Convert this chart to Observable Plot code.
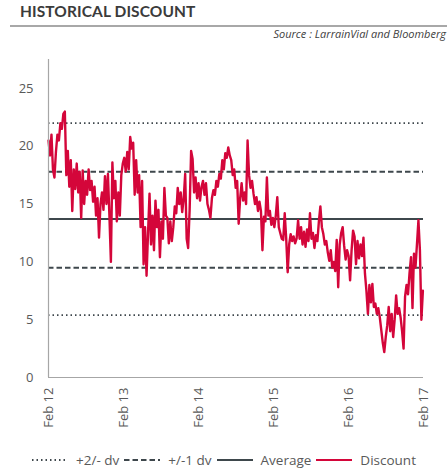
<!DOCTYPE html>
<html>
<head>
<meta charset="utf-8">
<script src="https://cdn.jsdelivr.net/npm/d3@7"></script>
<script src="https://cdn.jsdelivr.net/npm/@observablehq/plot@0.6"></script>
<style>
  html, body { margin: 0; padding: 0; background: #fff; }
  body { width: 447px; height: 469px; overflow: hidden; font-family: "Open Sans", sans-serif; }
  #hdr { position: relative; width: 447px; height: 48px; }
  #title { position: absolute; left: 20px; top: 2px; font: 700 15.5px Lato, sans-serif; color: #3b3b3b; letter-spacing: 0.1px; }
  #rule { position: absolute; left: 10px; right: 0; top: 25px; height: 2px; background: #a8a8a8; }
  #source { position: absolute; right: 1px; top: 26px; font: italic 11px "Open Sans", sans-serif; color: #404040; }
  #legend { display: flex; justify-content: center; align-items: center; height: 20px; margin-top: 21px; font: 13.5px "Open Sans", sans-serif; color: #595959; }
  #legend .item { display: flex; align-items: center; margin: 0 2px; }
  #legend svg { margin-right: 7px; }
</style>
</head>
<body>
<div id="hdr">
  <div id="title">HISTORICAL DISCOUNT</div>
  <div id="rule"></div>
  <div id="source">Source : LarrainVial and Bloomberg</div>
</div>
<div id="chart"></div>
<div id="legend"></div>
<script>
// Discount series (roughly weekly samples, Feb 2012 -> Feb 2017)
const discount = [
  20.5, 19.2, 21.0, 18.0, 17.3, 19.5, 21.0, 20.5, 22.0, 21.5, 22.8, 23.0, 17.5, 19.6, 16.5, 18.8, 14.4, 18.0, 16.3, 18.5,
  16.0, 17.8, 13.8, 17.9, 15.0, 17.0, 15.8, 18.0, 16.2, 17.0, 15.2, 16.5, 14.0, 15.5, 12.1, 15.0, 16.0, 14.5, 17.4, 15.0,
  17.6, 14.0, 10.0, 18.6, 15.5, 17.0, 13.5, 16.0, 14.0, 17.5, 18.5, 19.0, 17.8,
  19.5, 18.0, 20.8, 19.8, 20.3, 15.8, 18.8, 16.0, 17.5, 13.0, 17.0, 9.8, 13.0, 8.8, 12.5, 15.9, 11.5, 14.0, 11.0, 15.3,
  13.0, 14.5, 10.4, 13.5, 12.0, 16.4, 14.0, 13.8, 11.6, 13.5, 11.8, 13.0, 14.8, 14.2, 16.4, 15.0, 16.0, 14.3, 15.5, 17.6,
  12.0, 11.2, 14.5, 19.6, 18.9, 16.0, 17.3, 15.5, 16.8, 15.3, 16.5, 17.0,
  15.8, 16.8, 15.0, 14.5, 13.8, 15.5, 16.2, 15.8, 17.0, 16.5, 17.6, 17.2, 18.8, 18.0, 19.4, 19.0, 19.9, 19.2, 18.8, 17.5,
  18.0, 16.4, 17.0, 13.3, 15.5, 16.8, 15.3, 16.0, 15.0, 20.5, 17.5, 16.4, 17.0, 15.9, 15.0, 15.6, 14.4, 15.2, 14.4, 11.0,
  13.9, 13.5, 17.3, 14.0, 14.4, 13.2, 13.8, 13.0, 14.0, 15.6, 13.0, 12.5,
  12.0, 11.9, 14.2, 12.0, 9.1, 11.5, 12.4, 11.8, 12.2, 11.6, 12.0, 13.6, 12.0, 13.0, 11.5, 12.6, 11.3, 12.8, 11.8, 14.2,
  12.0, 12.5, 11.2, 12.3, 11.8, 13.5, 14.8, 13.0, 12.4, 11.5, 11.8, 10.8, 10.1, 11.0, 9.5, 10.0, 9.2, 11.9, 7.8, 11.5,
  12.5, 13.0, 11.4, 10.2, 11.0, 10.5, 8.4, 11.0, 12.7, 12.2, 9.8, 11.8,
  10.3, 11.5, 10.5, 12.1, 9.0, 7.5, 5.5, 8.0, 6.5, 8.1, 6.1, 6.4, 5.5, 6.0, 5.2, 4.1, 3.0, 2.2, 3.5, 4.5,
  6.1, 4.0, 5.5, 3.5, 5.0, 7.1, 5.5, 6.0, 5.2, 4.0, 2.5, 7.0, 8.0, 7.2, 9.0, 10.4, 6.0, 10.7, 9.5, 11.5,
  13.6, 11.0, 5.0, 7.5
];
const seriesStart = "2012-02-01";
const seriesEnd = "2017-01-29";

// Reference levels
const refLevels = [22.0, 17.8, 13.7, 9.5, 5.4];
const refKinds  = ["2dv", "1dv", "avg", "1dv", "2dv"];

// Axes
const xTickDates  = ["2012-02-01", "2013-02-01", "2014-02-01", "2015-02-01", "2016-02-01", "2017-02-01"];
const xTickLabels = ["Feb 12", "Feb 13", "Feb 14", "Feb 15", "Feb 16", "Feb 17"];
const yTicks = [0, 5, 10, 15, 20, 25];
const yMax = 27.5;

// Legend
const legendLabels = ["+2/- dv", "+/-1 dv", "Average", "Discount"];

const RED = "#d4063a";
const DARK = "#3e474c";
const styleFor = {
  "2dv": {stroke: DARK, strokeWidth: 1.8, dash: "1.5,3"},
  "1dv": {stroke: DARK, strokeWidth: 2, dash: "5.5,3"},
  "avg": {stroke: DARK, strokeWidth: 2, dash: null}
};

const t0 = new Date(seriesStart).getTime();
const t1 = new Date(seriesEnd).getTime();
const series = discount.map((v, i) => ({date: new Date(t0 + (t1 - t0) * i / (discount.length - 1)), value: v}));
const refs = refLevels.map((v, i) => ({value: v, kind: refKinds[i]}));
const tickDates = xTickDates.map(d => new Date(d));
const labelOf = new Map(tickDates.map((d, i) => [+d, xTickLabels[i]]));

const refMarks = ["2dv", "1dv", "avg"].map(k =>
  Plot.ruleY(refs.filter(r => r.kind === k), {
    y: "value",
    stroke: styleFor[k].stroke,
    strokeWidth: styleFor[k].strokeWidth,
    strokeDasharray: styleFor[k].dash
  })
);

const chart = Plot.plot({
  width: 447,
  height: 381,
  marginLeft: 48,
  marginRight: 24,
  marginTop: 11,
  marginBottom: 52,
  style: {fontFamily: "'Open Sans', sans-serif", fontSize: "13px", color: "#595959", background: "#fff"},
  x: {type: "utc", domain: [tickDates[0], tickDates[tickDates.length - 1]]},
  y: {domain: [0, yMax]},
  marks: [
    Plot.axisX({ticks: tickDates, tickFormat: d => labelOf.get(+d), tickRotate: -90, tickSize: 0, tickPadding: 10, label: null, fontSize: 13}),
    Plot.axisY({ticks: yTicks, tickSize: 0, tickPadding: 15, label: null, fontSize: 13}),
    ...refMarks,
    Plot.line(series, {x: "date", y: "value", stroke: RED, strokeWidth: 2.4, strokeLinejoin: "round"}),
    Plot.ruleX([tickDates[0]], {y1: 0, y2: yMax, stroke: "#a6a6a6", strokeWidth: 1.2}),
    Plot.ruleY([0], {stroke: "#a6a6a6", strokeWidth: 1.2})
  ]
});
document.getElementById("chart").appendChild(chart);

// Legend
const legendStyles = [
  {stroke: DARK, dash: "1.5,3", w: 1.8},
  {stroke: DARK, dash: "5.5,3", w: 2},
  {stroke: DARK, dash: null, w: 2},
  {stroke: RED, dash: null, w: 2.2}
];
const legend = document.getElementById("legend");
legendLabels.forEach((lab, i) => {
  const s = legendStyles[i];
  const item = document.createElement("div");
  item.className = "item";
  item.innerHTML = `<svg width="38" height="10"><line x1="1" x2="37" y1="5" y2="5" stroke="${s.stroke}" stroke-width="${s.w}" ${s.dash ? `stroke-dasharray="${s.dash}"` : ""}/></svg><span>${lab}</span>`;
  legend.appendChild(item);
});
</script>
</body>
</html>
